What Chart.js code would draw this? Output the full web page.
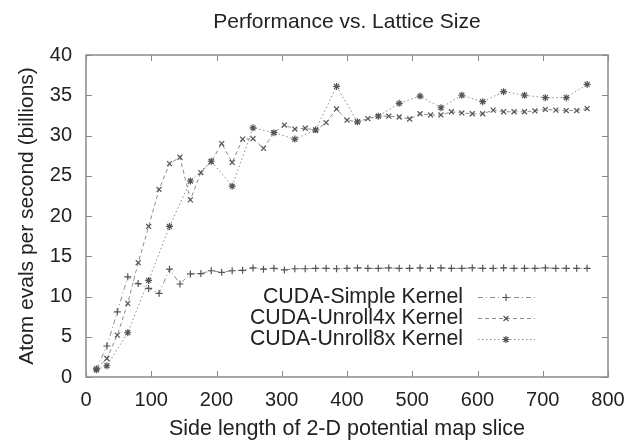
<!DOCTYPE html>
<html>
<head>
<meta charset="utf-8">
<script src="https://cdn.jsdelivr.net/npm/chart.js@4.4.0/dist/chart.umd.min.js"></script>
<style>
  html, body { margin: 0; padding: 0; background: #fff; }
  #wrap { width: 628px; height: 440px; position: relative; }
</style>
</head>
<body>
<div id="wrap"><canvas id="c"></canvas></div>
<script>
const chartTitle = "Performance vs. Lattice Size";
const xTitle = "Side length of 2-D potential map slice";
const yTitle = "Atom evals per second (billions)";
const seriesNames = ["CUDA-Simple Kernel", "CUDA-Unroll4x Kernel", "CUDA-Unroll8x Kernel"];

const simpleX = [16,32,48,64,80,96,112,128,144,160,176,192,208,224,240,256,272,288,304,320,
  336,352,368,384,400,416,432,448,464,480,496,512,528,544,560,576,592,608,624,640,656,672,688,704,720,736,752,768];
const simpleY = [1.0,3.85,8.1,12.45,11.6,11.0,10.4,13.4,11.55,12.8,12.85,13.2,13.0,13.2,13.25,13.55,13.4,13.5,13.3,13.45,
  13.45,13.5,13.5,13.45,13.5,13.55,13.5,13.5,13.55,13.5,13.5,13.55,13.5,13.55,13.5,13.5,13.55,13.5,13.5,13.55,13.5,13.5,13.5,13.55,13.5,13.5,13.5,13.5];

const unroll4X = simpleX.slice();
const unroll4Y = [1.0,2.3,5.2,9.15,14.2,18.7,23.3,26.5,27.3,22.0,25.4,26.75,29.0,26.65,29.55,29.6,28.4,30.35,31.3,30.8,
  30.9,30.65,31.6,33.3,31.9,31.7,32.1,32.4,32.4,32.3,32.05,32.7,32.55,32.55,32.95,32.8,32.7,32.7,33.15,32.95,32.95,32.95,33.05,33.25,33.15,33.1,33.1,33.35];

const unroll8X = [16,32,64,96,128,160,192,224,256,288,320,352,384,416,448,480,512,544,576,608,640,672,704,736,768];
const unroll8Y = [0.9,1.4,5.5,12.0,18.7,24.35,26.8,23.7,30.95,30.35,29.55,30.7,36.1,31.7,32.4,34.0,34.9,33.45,35.0,34.2,35.45,35.0,34.7,34.7,36.35];

const xTicks = [0,100,200,300,400,500,600,700,800];
const yTicks = [0,5,10,15,20,25,30,35,40];

const FONT = "'Liberation Sans', Arial, Helvetica, sans-serif";
const TEXT = '#222';
const FRAME = '#8a8a8a';

function pts(xs, ys) { return xs.map((x, i) => ({ x: x, y: ys[i] })); }

const datasets = [
  { label: seriesNames[0], data: pts(simpleX, simpleY), pointStyle: 'cross', borderDash: [5,3,1,3] },
  { label: seriesNames[1], data: pts(unroll4X, unroll4Y), pointStyle: 'crossRot', borderDash: [4,3] },
  { label: seriesNames[2], data: pts(unroll8X, unroll8Y), pointStyle: 'star', borderDash: [1.5,2.5] }
].map(d => Object.assign({
  showLine: true,
  borderColor: '#8c8c8c',
  borderWidth: 1,
  pointBorderColor: '#555',
  pointBackgroundColor: '#555',
  pointRadius: 3.5,
  pointBorderWidth: 1.2,
  tension: 0,
  fill: false
}, d));

const framePlugin = {
  id: 'frame',
  beforeDatasetsDraw(chart) {
    const { ctx, chartArea: a, scales } = chart;
    ctx.save();
    ctx.strokeStyle = FRAME;
    ctx.lineWidth = 1.5;
    ctx.strokeRect(a.left, a.top, a.right - a.left, a.bottom - a.top);
    ctx.lineWidth = 1;
    const L = 6;
    ctx.beginPath();
    xTicks.forEach(v => {
      const px = Math.round(scales.x.getPixelForValue(v)) + 0.5;
      ctx.moveTo(px, a.bottom); ctx.lineTo(px, a.bottom - L);
      ctx.moveTo(px, a.top); ctx.lineTo(px, a.top + L);
    });
    yTicks.forEach(v => {
      const py = Math.round(scales.y.getPixelForValue(v)) + 0.5;
      ctx.moveTo(a.left, py); ctx.lineTo(a.left + L, py);
      ctx.moveTo(a.right, py); ctx.lineTo(a.right - L, py);
    });
    ctx.stroke();
    ctx.restore();
  },
  afterDraw(chart) {
    const { ctx, chartArea: a } = chart;
    ctx.save();
    // title centred over plot
    ctx.fillStyle = TEXT;
    ctx.font = '21px ' + FONT;
    ctx.textAlign = 'center';
    ctx.textBaseline = 'middle';
    ctx.fillText(chartTitle, (a.left + a.right) / 2, a.top - 33);
    // legend (gnuplot style: text, then sample)
    const textRight = a.right - 145;
    const sx0 = a.right - 130, sx1 = a.right - 73, mx = a.right - 102;
    const rows = [a.bottom - 80, a.bottom - 59, a.bottom - 38];
    chart.data.datasets.forEach((d, i) => {
      const y = rows[i];
      ctx.fillStyle = TEXT;
      ctx.font = '21.3px ' + FONT;
      ctx.textAlign = 'right';
      ctx.textBaseline = 'middle';
      ctx.fillText(d.label, textRight, y);
      ctx.save();
      ctx.strokeStyle = d.borderColor;
      ctx.lineWidth = d.borderWidth;
      ctx.setLineDash(d.borderDash);
      ctx.beginPath();
      ctx.moveTo(sx0, y + 0.5); ctx.lineTo(sx1, y + 0.5);
      ctx.stroke();
      ctx.restore();
      ctx.strokeStyle = d.pointBorderColor;
      ctx.fillStyle = d.pointBackgroundColor;
      ctx.lineWidth = d.pointBorderWidth;
      Chart.helpers.drawPoint(ctx, { pointStyle: d.pointStyle, radius: d.pointRadius, borderWidth: d.pointBorderWidth, rotation: 0 }, mx, y + 0.5);
    });
    ctx.restore();
  }
};

new Chart(document.getElementById('c'), {
  type: 'scatter',
  data: { datasets: datasets },
  options: {
    responsive: true,
    maintainAspectRatio: false,
    animation: false,
    layout: { padding: { left: 0, right: 20, top: 55, bottom: 0 } },
    plugins: {
      legend: { display: false },
      title: { display: false },
      tooltip: { enabled: false }
    },
    scales: {
      x: {
        type: 'linear', min: 0, max: 800,
        afterFit: s => { s.height = 63; s.paddingLeft = 0; s.paddingRight = 0; },
        afterBuildTicks: s => { s.ticks = xTicks.map(v => ({ value: v })); },
        grid: { display: false, drawTicks: false },
        border: { display: false },
        ticks: { color: TEXT, font: { family: FONT, size: 20 }, padding: 11, maxRotation: 0, autoSkip: false },
        title: { display: true, text: xTitle, color: TEXT, font: { family: FONT, size: 21.5, lineHeight: 1 }, padding: { top: 0, bottom: 0 } }
      },
      y: {
        type: 'linear', min: 0, max: 40,
        afterFit: s => { s.width = 86; s.paddingTop = 0; s.paddingBottom = 0; },
        afterBuildTicks: s => { s.ticks = yTicks.map(v => ({ value: v })); },
        grid: { display: false, drawTicks: false },
        border: { display: false },
        ticks: { color: TEXT, font: { family: FONT, size: 20 }, padding: 14 },
        title: { display: true, text: yTitle, color: TEXT, font: { family: FONT, size: 21, lineHeight: 1.2 }, padding: { top: 15, bottom: 0 } }
      }
    }
  },
  plugins: [framePlugin]
});
</script>
</body>
</html>
